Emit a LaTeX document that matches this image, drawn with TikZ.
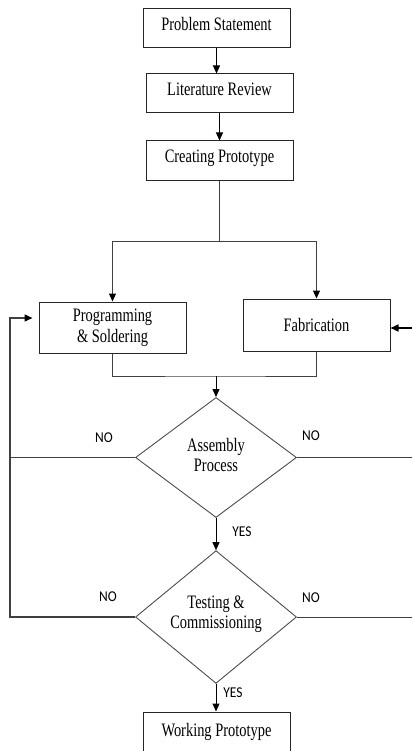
\documentclass[tikz,border=0pt]{standalone}
\usepackage{fontspec}
\setmainfont{Liberation Serif}[FakeStretch=0.76]
\newfontfamily\ynfont{Carlito}[FakeStretch=0.9]
\usetikzlibrary{arrows.meta}
\usetikzlibrary{calc}
\usetikzlibrary{shapes.geometric}
\usetikzlibrary{positioning}

\tikzset{
  block/.style={draw=black!85,line width=1pt,rectangle,minimum width=147pt,minimum height=39pt,
    inner sep=1pt,align=center,font=\fontsize{19}{21}\selectfont},
  decision/.style={draw=black!70,line width=0.9pt,diamond,minimum width=161pt,minimum height=120pt,
    inner sep=0pt,align=center,font=\fontsize{19}{21}\selectfont},
  yn/.style={inner sep=0pt,font=\ynfont\fontsize{15}{17}\selectfont},
  link/.style={draw=black!75,line width=1pt},
}

\begin{document}
\begin{tikzpicture}[x=1pt,y=-1pt,>={Triangle[length=8pt,width=7pt,color=black]}]

  \useasboundingbox (0,0) rectangle (412,751);

  \node [block,text depth=9pt] (ps) at (216.5,28.5) {Problem Statement};
  \node [block,text depth=9pt] (lr) at (219.5,93.5) {Literature Review};
  \node [block,minimum height=40pt,text depth=9pt] (cp) at (219.5,161) {Creating Prototype};

  \node [block,minimum height=51pt] (prog) at (112.5,327.5) {Programming\\ \& Soldering};
  \node [block,minimum height=52pt] (fab) at (316.5,325) {Fabrication};

  \node [decision] (asm) at (216,457.5) {\raisebox{5pt}{\shortstack{Assembly\\Process}}};
  \node [decision] (test) at (216,617) {\raisebox{9pt}{\shortstack{Testing \&\\Commissioning}}};

  \node [block,text depth=3pt] (wp) at (216.5,731.5) {Working Prototype};

  \coordinate (split) at (219,241);
  \coordinate (join) at (216,376);
  \coordinate (lbus) at (10,318);
  \coordinate (rin) at (412,328);
  \coordinate (redge) at (412,0);

  \node [yn] (no1) at (104,438) {NO};
  \node [yn] (no2) at (311,436) {NO};
  \node [yn] (yes1) at (242,532) {YES};
  \node [yn] (no3) at (108,597) {NO};
  \node [yn] (no4) at (311,598) {NO};
  \node [yn] (yes2) at (233,693) {YES};

  \draw [link,draw=black,->] (ps.south) -- (ps.south |- lr.north);
  \draw [link,draw=black,->] (lr.south) -- (lr.south |- cp.north);

  \draw [link] (cp.south -| split) -- (split);
  \draw [link] (split -| prog) -- (split -| fab);
  \draw [link,->] (split -| prog) -- (prog.north);
  \draw [link,->] (split -| fab) -- (fab.north);

  \draw [link] (prog.south) |- (join) -| (fab.south);
  \draw [link,draw=black,->] (join) -- (asm.north);

  \draw [link] (asm.west) -- (asm.west -| lbus);
  \draw [link,line width=1.3pt,->,shorten >=6pt] (test.west) -| (lbus) -- (prog.west |- lbus);
  \draw [link] (asm.east) -- (asm.east -| redge);
  \draw [link] (test.east) -- (test.east -| redge);
  \draw [link,draw=black,line width=1.5pt,->] (rin) -- (fab.east |- rin);

  \draw [link,draw=black,->] (asm.south) -- (test.north);
  \draw [link,draw=black,->] (test.south) -- (test.south |- wp.north);

\end{tikzpicture}
\end{document}
